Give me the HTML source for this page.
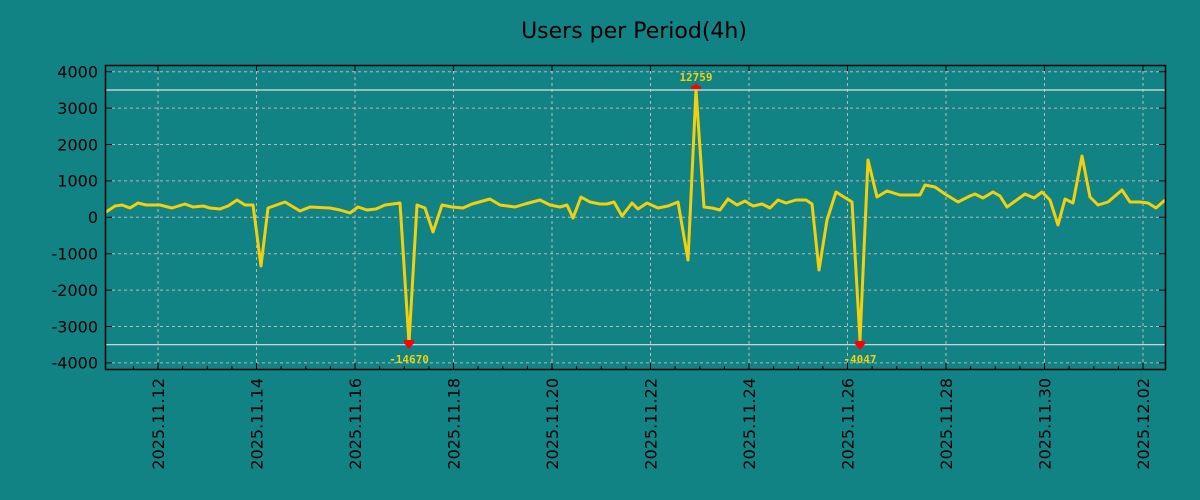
<!DOCTYPE html>
<html><head><style>
html,body{margin:0;padding:0;background:#118385;}
svg{display:block;font-family:"DejaVu Sans","Liberation Sans",sans-serif;}
</style></head><body>
<svg width="1200" height="500" xmlns="http://www.w3.org/2000/svg">
<rect width="1200" height="500" fill="#118385"/>
<text x="634" y="38" font-size="22" text-anchor="middle" fill="#000">Users per Period(4h)</text>
<g stroke="#b8b8b8" stroke-width="1" stroke-dasharray="3,3">
<line x1="106" x2="1165" y1="71.7" y2="71.7"/><line x1="106" x2="1165" y1="108.1" y2="108.1"/>
<line x1="106" x2="1165" y1="144.5" y2="144.5"/><line x1="106" x2="1165" y1="180.9" y2="180.9"/>
<line x1="106" x2="1165" y1="217.3" y2="217.3"/><line x1="106" x2="1165" y1="253.7" y2="253.7"/>
<line x1="106" x2="1165" y1="290.1" y2="290.1"/><line x1="106" x2="1165" y1="326.5" y2="326.5"/>
<line x1="106" x2="1165" y1="362.9" y2="362.9"/>
<line x1="158" x2="158" y1="65" y2="369"/><line x1="256.5" x2="256.5" y1="65" y2="369"/>
<line x1="355" x2="355" y1="65" y2="369"/><line x1="453.5" x2="453.5" y1="65" y2="369"/>
<line x1="552" x2="552" y1="65" y2="369"/><line x1="650.5" x2="650.5" y1="65" y2="369"/>
<line x1="749" x2="749" y1="65" y2="369"/><line x1="847.5" x2="847.5" y1="65" y2="369"/>
<line x1="946" x2="946" y1="65" y2="369"/><line x1="1044.5" x2="1044.5" y1="65" y2="369"/>
<line x1="1143" x2="1143" y1="65" y2="369"/>
</g>
<line x1="106" x2="1165" y1="90" y2="90" stroke="#e0e0e0" stroke-width="1.2"/>
<line x1="106" x2="1165" y1="344.7" y2="344.7" stroke="#e0e0e0" stroke-width="1.2"/>
<polyline fill="none" stroke="#f2d00c" stroke-width="3" stroke-linejoin="round" points="106,212 115,206 122,205 130,208 138,203 146,205 160,205 172,208 185,204 193,207 203,206 210,208 220,209 228,206 237,200 245,205 253,205 261,266 268,208 285,202 300,211 310,207 330,208 340,210 350,213 358,207 367,210 376,209 385,205 400,203 409,343 417,205 425,208 433,232 442,205 452,207 463,208 472,204 490,199 500,205 515,207 525,204 540,200 550,205 560,207 567,205 573,218 581,197 590,202 600,204 607,204 614,202 622,216 632,203 638,209 647,203 658,208 668,206 678,202 688,260 696,90 704,207 712,208 720,210 728,199 737,205 745,201 753,206 762,204 770,208 778,200 786,203 796,200 806,200 812,204 819,270 827,220 836,192 852,202 860,340 868,160 877,197 887,191 900,195 912,195 920,195 925,185 935,187 945,194 958,202 970,196 975,194 983,198 993,192 1000,196 1007,207 1025,194 1034,198 1042,192 1050,200 1058,225 1065,199 1073,203 1082,156 1090,197 1098,205 1108,202 1122,190 1130,202 1140,202 1148,203 1156,208 1165,200"/>
<g fill="#ff0000">
<rect x="404" y="340" width="10" height="3"/><polygon points="404,343 414,343 409,349"/>
<rect x="691" y="86" width="10" height="3"/><polygon points="691,89 701,89 696,83"/>
<rect x="855" y="341" width="10" height="3"/><polygon points="855,344 865,344 860,350"/>
</g>
<g fill="#f2d00c" font-size="11" font-weight="bold" font-family="'DejaVu Sans Mono','Liberation Mono',monospace" text-anchor="middle">
<text x="409" y="363">-14670</text><text x="696" y="81">12759</text><text x="860" y="363">-4047</text>
</g>
<rect x="105.5" y="65.5" width="1060" height="304" fill="none" stroke="#000" stroke-width="1.5"/>
<g stroke="#000" stroke-width="1">
<path d="M106 71.7h6M106 108.1h6M106 144.5h6M106 180.9h6M106 217.3h6M106 253.7h6M106 290.1h6M106 326.5h6M106 362.9h6"/>
<path d="M1165 71.7h-6M1165 108.1h-6M1165 144.5h-6M1165 180.9h-6M1165 217.3h-6M1165 253.7h-6M1165 290.1h-6M1165 326.5h-6M1165 362.9h-6"/>
<path d="M158 369v-6M256.5 369v-6M355 369v-6M453.5 369v-6M552 369v-6M650.5 369v-6M749 369v-6M847.5 369v-6M946 369v-6M1044.5 369v-6M1143 369v-6"/>
<path d="M133.4 369v-3M182.6 369v-3M207.3 369v-3M231.9 369v-3M281.1 369v-3M305.8 369v-3M330.4 369v-3M379.6 369v-3M404.3 369v-3M428.9 369v-3M478.1 369v-3M502.8 369v-3M527.4 369v-3M576.6 369v-3M601.3 369v-3M625.9 369v-3M675.1 369v-3M699.8 369v-3M724.4 369v-3M773.6 369v-3M798.3 369v-3M822.9 369v-3M872.1 369v-3M896.8 369v-3M921.4 369v-3M970.6 369v-3M995.3 369v-3M1019.9 369v-3M1069.1 369v-3M1093.8 369v-3M1118.4 369v-3"/>
<path d="M158 65v6M256.5 65v6M355 65v6M453.5 65v6M552 65v6M650.5 65v6M749 65v6M847.5 65v6M946 65v6M1044.5 65v6M1143 65v6"/>
</g>
<g font-size="16" fill="#000" text-anchor="end">
<text x="98" y="77.5">4000</text><text x="98" y="113.9">3000</text><text x="98" y="150.3">2000</text>
<text x="98" y="186.7">1000</text><text x="98" y="223.1">0</text><text x="98" y="259.5">-1000</text>
<text x="98" y="295.9">-2000</text><text x="98" y="332.3">-3000</text><text x="98" y="368.7">-4000</text>
</g>
<g font-size="16" fill="#000" text-anchor="end">
<text transform="translate(164,378) rotate(-90)">2025.11.12</text>
<text transform="translate(262.5,378) rotate(-90)">2025.11.14</text>
<text transform="translate(361,378) rotate(-90)">2025.11.16</text>
<text transform="translate(459.5,378) rotate(-90)">2025.11.18</text>
<text transform="translate(558,378) rotate(-90)">2025.11.20</text>
<text transform="translate(656.5,378) rotate(-90)">2025.11.22</text>
<text transform="translate(755,378) rotate(-90)">2025.11.24</text>
<text transform="translate(853.5,378) rotate(-90)">2025.11.26</text>
<text transform="translate(952,378) rotate(-90)">2025.11.28</text>
<text transform="translate(1050.5,378) rotate(-90)">2025.11.30</text>
<text transform="translate(1149,378) rotate(-90)">2025.12.02</text>
</g>
</svg>
</body></html>
